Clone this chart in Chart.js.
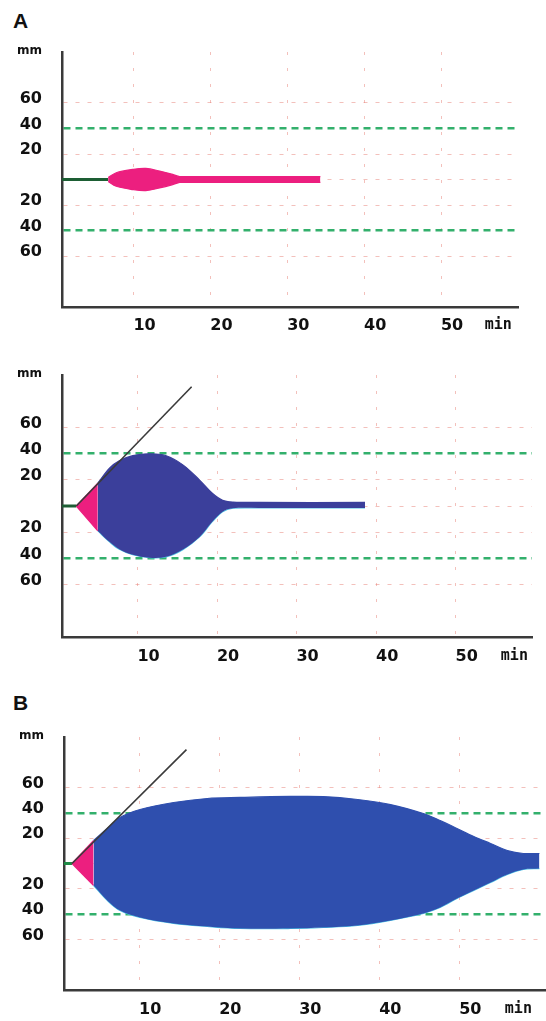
<!DOCTYPE html>
<html>
<head>
<meta charset="utf-8">
<script src="https://cdn.jsdelivr.net/npm/chart.js@4.4.1/dist/chart.umd.min.js"></script>
<style>
body{margin:0;background:#fff;width:546px;height:1021px;position:relative;overflow:hidden}
canvas{position:absolute;left:0}
.tag{position:absolute;left:13px;font:bold 21px "Liberation Sans",Arial,sans-serif;color:#111}
</style>
</head>
<body>
<div class="tag" style="top:9px">A</div>
<div class="tag" style="top:691px">B</div>
<canvas id="chartA" width="546" height="340" style="top:0"></canvas>
<canvas id="chartMid" width="546" height="330" style="top:340px"></canvas>
<canvas id="chartB" width="546" height="351" style="top:670px"></canvas>
<script>
// AXES
const xTickValues = [10, 20, 30, 40, 50, 56];
const xTickLabels = ['10', '20', '30', '40', '50', 'min'];
const yTickValues = [-60, -40, -20, 0, 20, 40, 60, 98];
const yTickLabels = ['60', '40', '20', '', '20', '40', '60', 'mm'];

// PANEL A, first trace (min / mm)
const baseXA = [0.7, 6.7];
const baseYA = [0, 0];
const timeA = [6.7, 7.75, 9.9, 11.6, 13.4, 15.1, 16.0, 17.0, 34.3];
const upperA = [1.5, 5.3, 7.9, 8.7, 6.6, 4.0, 2.3, 2.3, 2.3];
const lowerA = [-1.5, -5.3, -7.9, -8.7, -6.6, -4.0, -2.3, -2.3, -2.3];

// PANEL A, second trace
const baseXM = [0.5, 2.3];
const baseYM = [0, 0];
const pinkTimeM = [2.3, 5.0];
const pinkUpperM = [0, 17.4];
const pinkLowerM = [0, -19];
const timeM = [5.0, 6.5, 7.7, 9.4, 11.5, 13.6, 15.7, 17.8, 19.4, 20.7, 22.0, 25.3, 38.6];
const upperM = [17.4, 29, 34.5, 38.4, 39.9, 38.4, 31.4, 19.8, 9.7, 4.3, 3.0, 2.7, 2.7];
const lowerM = [-19, -27.5, -33, -37.2, -39.5, -38.8, -33.3, -23.6, -12, -4.3, -1.7, -1.5, -1.5];
const tangentXM = [2.3, 16.8];
const tangentYM = [0, 91];

// PANEL B
const baseXB = [0.6, 1.6];
const baseYB = [0, 0];
const pinkTimeB = [1.6, 4.3];
const pinkUpperB = [0, 18.2];
const pinkLowerB = [0, -17.4];
const timeB = [4.3, 6.0, 7.6, 10.1, 14.3, 18.5, 22.6, 28.9, 33.0, 37.3, 41.4, 45.5, 47.6, 49.7, 51.8, 53.9, 56.0, 58.0, 60.0];
const upperB = [18.2, 27.7, 36.4, 42.7, 48.2, 51.4, 52.2, 53, 52.9, 50.6, 46.6, 39.5, 34, 27.7, 21.3, 15.8, 10.3, 7.9, 7.9];
const lowerB = [-17.4, -29.2, -37.2, -42.7, -47.4, -49.8, -51.4, -51.4, -50.6, -49, -45, -39.5, -34.8, -27.7, -21.3, -15, -8.7, -4.7, -4];
const tangentXB = [1.6, 15.9];
const tangentYB = [0, 90];

const PINK = '#ec1f7f';
const GRID_PINK = 'rgba(232,130,120,0.5)';
const GRID_GREEN = '#33b06c';
const AXIS = '#3a3a3a';

function pts(xs, ys){
  return xs.map((x, i) => ({x: x, y: ys[i]}));
}

function line(xs, ys, color, width){
  return {data: pts(xs, ys), borderColor: color, borderWidth: width, pointRadius: 0, fill: false, tension: 0};
}

function band(xs, up, low, color, lowEdge, smooth){
  const t = smooth ? 0.35 : 0;
  return [
    {data: pts(xs, up), borderColor: color, backgroundColor: color, borderWidth: 1.2, pointRadius: 0, fill: '+1', tension: t},
    {data: pts(xs, low), borderColor: lowEdge || color, borderWidth: 1.2, pointRadius: 0, fill: false, tension: t}
  ];
}

function numFont(size){
  return {family: '"DejaVu Sans", Verdana, sans-serif', weight: 'bold', size: size};
}

function makePanel(id, p){
  new Chart(document.getElementById(id), {
    type: 'line',
    data: {datasets: p.datasets},
    options: {
      responsive: false,
      animation: false,
      layout: {padding: {top: p.top, right: p.right, left: 0, bottom: 0}},
      plugins: {legend: {display: false}, tooltip: {enabled: false}},
      scales: {
        x: {
          type: 'linear', min: p.xMin, max: p.xMax,
          afterBuildTicks: s => { s.ticks = xTickValues.map(v => ({value: v})); },
          afterFit: s => { s.height = p.xHeight; },
          ticks: {
            autoSkip: false, maxRotation: 0, padding: p.xPad, labelOffset: 11, color: '#111',
            callback: (v, i) => xTickLabels[i],
            font: c => xTickLabels[c.index] === 'min'
              ? {family: '"DejaVu Sans Mono", monospace', weight: 'bold', size: 15}
              : numFont(16)
          },
          grid: {drawTicks: false, lineWidth: 1,
            color: c => xTickLabels[c.index] === 'min' ? 'rgba(0,0,0,0)' : GRID_PINK},
          border: {color: AXIS, width: 2.5, dash: c => c.tick ? [3, 13] : []}
        },
        y: {
          type: 'linear', min: -100, max: 100,
          afterBuildTicks: s => { s.ticks = yTickValues.map(v => ({value: v})); },
          afterFit: s => { s.width = p.left; },
          ticks: {
            autoSkip: false, padding: 20, labelOffset: -4, color: '#111',
            callback: (v, i) => yTickLabels[i],
            font: c => yTickLabels[c.index] === 'mm' ? numFont(12) : numFont(16)
          },
          grid: {
            drawTicks: false,
            color: c => {
              const v = c.tick ? c.tick.value : 0;
              if (v === 98) return 'rgba(0,0,0,0)';
              return Math.abs(v) === 40 ? GRID_GREEN : GRID_PINK;
            },
            lineWidth: c => c.tick && Math.abs(c.tick.value) === 40 ? 2.5 : 1
          },
          border: {color: AXIS, width: 2.5,
            dash: c => c.tick ? (Math.abs(c.tick.value) === 40 ? [7, 5] : [4, 8]) : []}
        }
      }
    }
  });
}

makePanel('chartA', {
  top: 52, right: 28, left: 62, xHeight: 33, xPad: 9, xMin: 0.7, xMax: 60,
  datasets: [
    ...band(timeA, upperA, lowerA, PINK, null, true),
    line(baseXA, baseYA, '#1d5e34', 3)
  ]
});

makePanel('chartMid', {
  top: 35, right: 14, left: 62, xHeight: 33, xPad: 10, xMin: 0.5, xMax: 59.6,
  datasets: [
    line(tangentXM, tangentYM, AXIS, 1.6),
    ...band(timeM, upperM, lowerM, '#3b3f9b', '#4cc3e6', true),
    ...band(pinkTimeM, pinkUpperM, pinkLowerM, PINK, null, false),
    line(baseXM, baseYM, '#1d5e34', 3)
  ]
});

makePanel('chartB', {
  top: 67, right: 1, left: 64, xHeight: 31, xPad: 10, xMin: 0.6, xMax: 60.7,
  datasets: [
    line(tangentXB, tangentYB, AXIS, 1.6),
    ...band(timeB, upperB, lowerB, '#2f4fae', '#4cc3e6', true),
    ...band(pinkTimeB, pinkUpperB, pinkLowerB, PINK, null, false),
    line(baseXB, baseYB, '#1d8a45', 3)
  ]
});
</script>
</body>
</html>
